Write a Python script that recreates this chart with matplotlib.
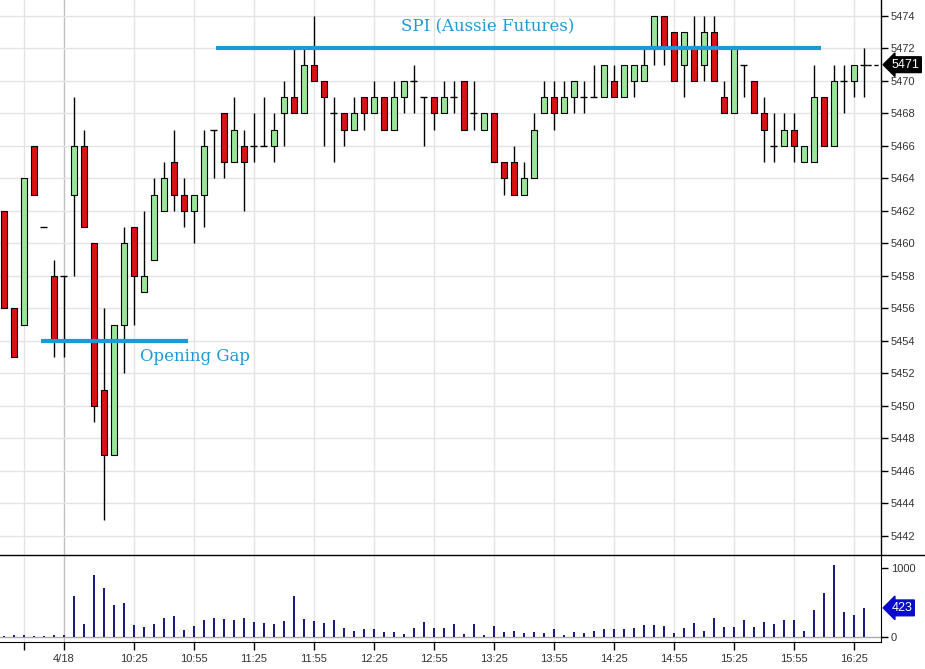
import matplotlib
matplotlib.use("Agg")
import matplotlib.pyplot as plt
import matplotlib.transforms as mtransforms
from matplotlib.lines import Line2D
import numpy as np

# 5 minute bars, SPI futures
opens = [5462, 5456, 5455, 5466, 5461, 5458, 5458, 5463, 5466, 5460,
         5451, 5447, 5455, 5461, 5457, 5459, 5462, 5465, 5463, 5462,
         5463, 5467, 5468, 5465, 5466, 5466, 5466, 5466, 5468, 5469,
         5468, 5471, 5470, 5468, 5468, 5467, 5469, 5468, 5469, 5467,
         5469, 5470, 5469, 5469, 5468, 5469, 5470, 5468, 5467, 5468,
         5465, 5465, 5463, 5464, 5468, 5469, 5468, 5469, 5469, 5469,
         5469, 5470, 5469, 5470, 5470, 5472, 5474, 5473, 5471, 5472,
         5471, 5473, 5469, 5468, 5471, 5470, 5468, 5466, 5466, 5467,
         5465, 5465, 5469, 5466, 5470, 5470, 5471]
highs = [5462, 5456, 5464, 5466, 5461, 5459, 5458, 5469, 5467, 5460,
         5456, 5455, 5461, 5461, 5462, 5464, 5465, 5467, 5464, 5463,
         5467, 5467, 5468, 5469, 5467, 5468, 5469, 5468, 5470, 5472,
         5472, 5474, 5470, 5469, 5468, 5469, 5469, 5470, 5469, 5470,
         5470, 5471, 5469, 5469, 5470, 5470, 5470, 5470, 5468, 5468,
         5465, 5466, 5465, 5468, 5470, 5470, 5470, 5470, 5470, 5471,
         5471, 5471, 5471, 5471, 5472, 5474, 5474, 5473, 5473, 5474,
         5474, 5474, 5470, 5472, 5471, 5470, 5469, 5468, 5468, 5468,
         5466, 5471, 5469, 5471, 5471, 5471, 5472]
lows = [5456, 5453, 5455, 5463, 5461, 5453, 5453, 5458, 5461, 5449,
        5443, 5447, 5452, 5455, 5457, 5459, 5462, 5462, 5461, 5460,
        5461, 5464, 5464, 5465, 5462, 5465, 5466, 5465, 5466, 5468,
        5468, 5470, 5466, 5465, 5466, 5467, 5467, 5468, 5467, 5467,
        5468, 5468, 5466, 5467, 5468, 5468, 5467, 5467, 5467, 5465,
        5463, 5463, 5463, 5464, 5468, 5467, 5468, 5468, 5468, 5469,
        5469, 5469, 5469, 5469, 5470, 5471, 5471, 5470, 5469, 5470,
        5470, 5470, 5468, 5468, 5469, 5468, 5465, 5465, 5466, 5465,
        5465, 5465, 5466, 5466, 5468, 5469, 5469]
closes = [5456, 5453, 5464, 5463, 5461, 5454, 5458, 5466, 5461, 5450,
          5447, 5455, 5460, 5458, 5458, 5463, 5464, 5463, 5462, 5463,
          5466, 5467, 5465, 5467, 5465, 5466, 5466, 5467, 5469, 5468,
          5471, 5470, 5469, 5468, 5467, 5468, 5468, 5469, 5467, 5469,
          5470, 5470, 5469, 5468, 5469, 5469, 5467, 5468, 5468, 5465,
          5464, 5463, 5464, 5467, 5469, 5468, 5469, 5470, 5469, 5469,
          5471, 5469, 5471, 5471, 5471, 5474, 5472, 5470, 5473, 5470,
          5473, 5470, 5468, 5472, 5471, 5468, 5467, 5466, 5467, 5466,
          5466, 5469, 5466, 5470, 5470, 5471, 5471]
volumes = [19, 29, 29, 19, 19, 29, 29, 593, 186, 889,
           707, 459, 492, 172, 148, 186, 277, 301, 100, 158,
           244, 277, 263, 244, 277, 215, 201, 186, 234, 593,
           263, 234, 201, 244, 134, 86, 120, 120, 72, 72,
           48, 134, 215, 134, 134, 186, 53, 186, 38, 158,
           72, 86, 57, 72, 57, 115, 29, 72, 57, 86,
           115, 115, 115, 134, 172, 172, 158, 57, 134, 201,
           86, 277, 148, 148, 244, 148, 215, 186, 244, 244,
           86, 387, 631, 1032, 358, 315, 423]

# time axis: bar index of each labelled tick
tick_bars = [2, 6, 13, 19, 25, 31, 37, 43, 49, 55, 61, 67, 73, 79, 85]
tick_labels = ["", "4/18", "10:25", "10:55", "11:25", "11:55", "12:25", "12:55",
               "13:25", "13:55", "14:25", "14:55", "15:25", "15:55", "16:25"]
price_ticks = list(range(5442, 5475, 2))

gap_level = 5454
high_level = 5472

RED = "#dd1111"
GREEN = "#99e699"
BLUE = "#1b9ad6"
GRID = "#e4e4e4"

o = np.array(opens)
h = np.array(highs)
l = np.array(lows)
c = np.array(closes)
x = np.arange(len(o))

fig = plt.figure(figsize=(9.25, 6.69), dpi=100)
ax = fig.add_axes([0, 0.1704, 0.9524, 0.8296])
axv = fig.add_axes([0, 0.04036, 0.9524, 0.1300], sharex=ax)

# grid
for a in (ax, axv):
    for b in tick_bars:
        a.axvline(b, color="#c0c0c0" if b == 6 else GRID, lw=1, zorder=0)
for p in price_ticks:
    ax.axhline(p, color=GRID, lw=1, zorder=0)

# candles
ax.vlines(x, l, h, color="black", lw=1, zorder=2)
up = c > o
down = c < o
flat = c == o
ax.bar(x[up], (c - o)[up], bottom=o[up], width=0.6, color=GREEN,
       edgecolor="black", lw=0.8, zorder=3)
ax.bar(x[down], (o - c)[down], bottom=c[down], width=0.6, color=RED,
       edgecolor="black", lw=0.8, zorder=3)
ax.hlines(c[flat], x[flat] - 0.35, x[flat] + 0.35, color="black", lw=1, zorder=3)

# annotations
ax.hlines(gap_level, 3.7, 18.4, color=BLUE, lw=3, zorder=4)
ax.text(13.6, gap_level - 0.95, "Opening Gap", color=BLUE, fontsize=12,
        family="DejaVu Serif", va="center", ha="left")
ax.hlines(high_level, 21.2, 81.7, color=BLUE, lw=3, zorder=4)
ax.text(48.4, high_level + 1.3, "SPI (Aussie Futures)", color=BLUE, fontsize=12,
        family="DejaVu Serif", va="center", ha="center")

# last price marker
last = closes[-1]
ax.hlines(last, x[-1] + 0.3, 87.7, color="black", lw=1, linestyles=(0, (3, 2)), zorder=3)
tr = mtransforms.blended_transform_factory(ax.transAxes, ax.transData)
ax.text(1.012, last, str(last), transform=tr, color="white", fontsize=9,
        family="Liberation Sans", va="center", ha="left", clip_on=False,
        bbox=dict(boxstyle="larrow,pad=0.15", fc="black", ec="black"))

ax.set_xlim(-0.4, 87.7)
ax.set_ylim(5440.83, 5474.98)
ax.yaxis.tick_right()
ax.set_yticks(price_ticks)
ax.tick_params(axis="y", direction="out", length=5, width=1, pad=2,
               labelsize=8, labelcolor="#333333")
ax.tick_params(axis="x", bottom=False, labelbottom=False)
for s in ("left", "top", "bottom"):
    ax.spines[s].set_visible(False)
ax.spines["right"].set_linewidth(1)

# volume
axv.axhline(0, color="#aaaaaa", lw=1, zorder=1)
axv.bar(x, volumes, width=0.25, color="#1c1c80", zorder=2)
axv.set_ylim(-67, 1182)
axv.yaxis.tick_right()
axv.set_yticks([0, 1000])
axv.tick_params(axis="y", direction="out", length=5, width=1, pad=2,
                labelsize=8, labelcolor="#333333")
axv.set_xticks(tick_bars)
axv.set_xticklabels(tick_labels)
axv.tick_params(axis="x", direction="out", length=6, width=1, pad=3,
                labelsize=8, labelcolor="#333333")
for s in ("left", "top"):
    axv.spines[s].set_visible(False)
trv = mtransforms.blended_transform_factory(axv.transAxes, axv.transData)
axv.text(1.012, volumes[-1], str(volumes[-1]), transform=trv, color="white", fontsize=9,
         family="Liberation Sans", va="center", ha="left", clip_on=False,
         bbox=dict(boxstyle="larrow,pad=0.15", fc="#0a0acc", ec="#0a0acc"))

for lab in ax.get_yticklabels() + axv.get_yticklabels() + axv.get_xticklabels():
    lab.set_family("Liberation Sans")

# panel separator across the whole width
fig.add_artist(Line2D([0, 1], [0.1704, 0.1704], color="black", lw=1,
                      transform=fig.transFigure))

fig.savefig("out.png", dpi=100)
